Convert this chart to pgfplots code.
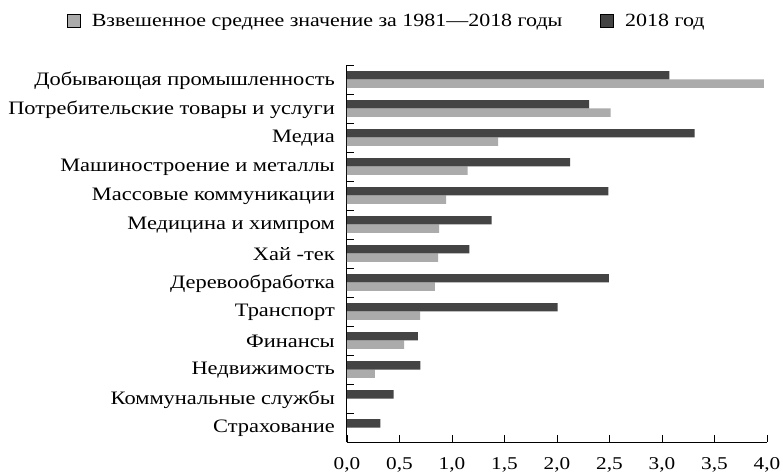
\documentclass[border=0pt]{standalone}
\usepackage{fontspec}
\setmainfont[FakeStretch=1.18]{Liberation Serif}
\usepackage{pgfplots}
\pgfplotsset{compat=1.18}
\definecolor{darkbar}{HTML}{444444}
\definecolor{lightbar}{HTML}{ABABAB}
\begin{document}
\begin{tikzpicture}
\begin{axis}[
  scale only axis, width=420bp, height=377bp,
  xmin=0, xmax=4, ymin=0, ymax=13,
  axis lines=left, axis line style={-, line width=1bp},
  tick align=inside, major tick length=7.5bp,
  tick style={black, line width=0.8bp},
  xtick={0,0.5,1,1.5,2,2.5,3,3.5,4},
  /pgf/number format/fixed, /pgf/number format/fixed zerofill,
  /pgf/number format/precision=1, /pgf/number format/use comma,
  /pgf/number format/assume math mode=true,
  xticklabel style={font=\fontsize{18bp}{20bp}\selectfont, inner sep=0pt, anchor=north, yshift=-15bp},
  ytick={0,1,2,3,4,5,6,7,8,9,10,11,12,13},
  y tick label as interval,
  yticklabels={Страхование, Коммунальные службы, Недвижимость, Финансы, Транспорт, Деревообработка, Хай -тек, Медицина и химпром, Массовые коммуникации, Машиностроение и металлы, Медиа, Потребительские товары и услуги, Добывающая промышленность},
  yticklabel style={font=\fontsize{19bp}{21bp}\selectfont, inner sep=0pt, anchor=east, xshift=-12bp, yshift=-1bp},
  legend style={draw=none, fill=none, at={(-0.667,1.117)}, anchor=west, inner sep=0pt,
    legend columns=2, font=\fontsize{18.6bp}{20bp}\selectfont,
    nodes={inner sep=0pt, anchor=west},
    /tikz/every odd column/.append style={column sep=11bp},
    /tikz/every even column/.append style={column sep=38bp}},
  mylegend/.style={legend image code/.code={\draw[##1, draw=black, line width=0.8bp] (0bp,-6.5bp) rectangle (13bp,6.5bp);}},
]
\addplot[xbar, bar width=8.3bp, bar shift=-4.15bp, fill=lightbar, draw=none, mylegend] coordinates {
  (0.266,2.5) (0.545,3.5) (0.697,4.5) (0.837,5.5) (0.867,6.5) (0.877,7.5)
  (0.945,8.5) (1.15,9.5) (1.44,10.5) (2.51,11.5) (3.97,12.5)};
\addlegendentry{Взвешенное среднее значение за 1981—2018 годы}
\addplot[xbar, bar width=8.3bp, bar shift=4.15bp, fill=darkbar, draw=none, mylegend] coordinates {
  (0.317,0.5) (0.444,1.5) (0.70,2.5) (0.674,3.5) (2.006,4.5) (2.495,5.5)
  (1.165,6.5) (1.377,7.5) (2.49,8.5) (2.125,9.5) (3.31,10.5) (2.305,11.5) (3.07,12.5)};
\addlegendentry{2018 год}
\end{axis}
\pgfresetboundingbox
\path (current axis.south west) ++(-347bp,-31bp) rectangle ++(783bp,473bp);
\end{tikzpicture}
\end{document}
